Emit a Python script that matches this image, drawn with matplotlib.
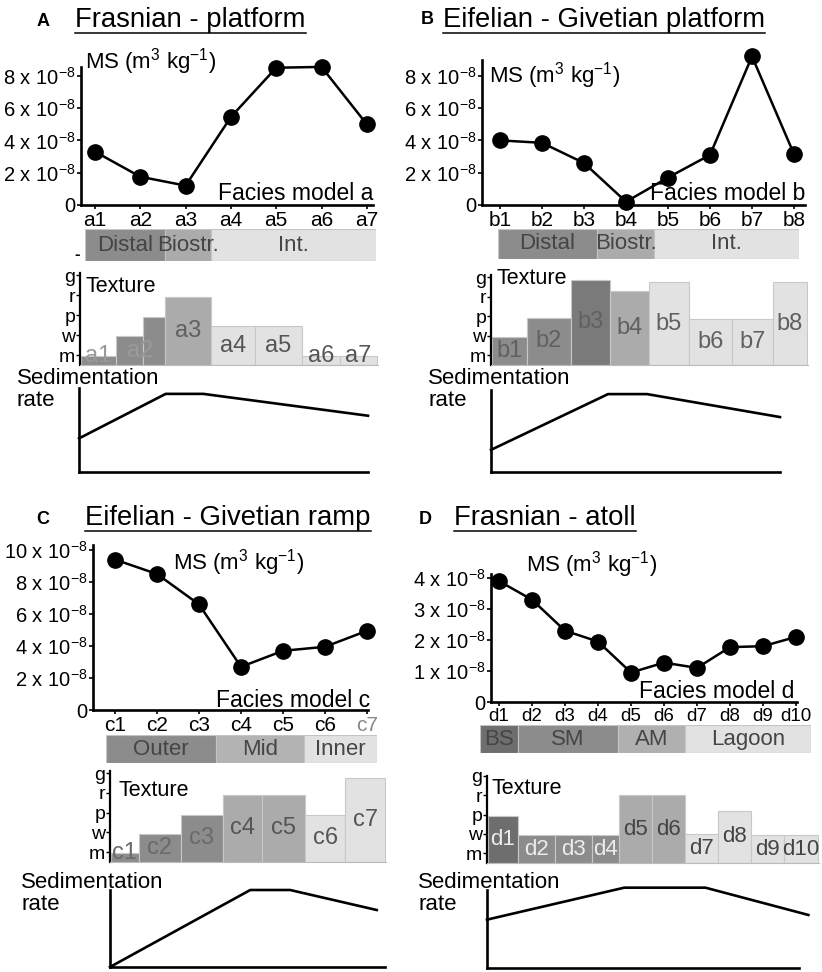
import matplotlib
matplotlib.use('Agg')
import matplotlib.pyplot as plt
from matplotlib.lines import Line2D
import numpy as np

plt.rcParams['font.family'] = ['Liberation Sans', 'DejaVu Sans']
plt.rcParams['mathtext.default'] = 'regular'

W, H = 822, 972

# ---------------- data ----------------
ms_a_labels = ['a1', 'a2', 'a3', 'a4', 'a5', 'a6', 'a7']
ms_a = [3.3, 1.75, 1.2, 5.45, 8.5, 8.55, 5.0]
ms_b_labels = ['b1', 'b2', 'b3', 'b4', 'b5', 'b6', 'b7', 'b8']
ms_b = [4.0, 3.85, 2.6, 0.2, 1.7, 3.1, 9.2, 3.15]
ms_c_labels = ['c1', 'c2', 'c3', 'c4', 'c5', 'c6', 'c7']
ms_c = [9.4, 8.5, 6.6, 2.7, 3.7, 3.95, 4.95]
ms_d_labels = ['d1', 'd2', 'd3', 'd4', 'd5', 'd6', 'd7', 'd8', 'd9', 'd10']
ms_d = [3.9, 3.3, 2.3, 1.95, 0.95, 1.27, 1.1, 1.77, 1.8, 2.1]

ms_ab_ticks = [0, 2, 4, 6, 8]
ms_c_ticks = [0, 2, 4, 6, 8, 10]
ms_d_ticks = [0, 1, 2, 3, 4]

facies_a = ['Distal', 'Biostr.', 'Int.']
facies_a_w = [80, 46, 165]
facies_b = ['Distal', 'Biostr.', 'Int.']
facies_b_w = [99, 57, 145]
facies_c = ['Outer', 'Mid', 'Inner']
facies_c_w = [110, 88, 73]
facies_d = ['BS', 'SM', 'AM', 'Lagoon']
facies_d_w = [38, 100, 67, 126]

texture_levels = ['m', 'w', 'p', 'r', 'g']

tex_a_w = [35, 27, 22, 46, 44, 47, 38, 37]
tex_a_h = [0.95, 1.95, 2.9, 3.9, 2.45, 2.45, 0.95, 0.95]
tex_a_lab = ['a1', 'a2', 'a3', 'a4', 'a5', 'a6', 'a7']
tex_a_span = [1, 2, 1, 1, 1, 1, 1]

tex_b_w = [35, 44, 39, 39, 41, 43, 41, 34]
tex_b_h = [1.9, 2.9, 4.85, 4.28, 4.74, 2.85, 2.85, 4.74]
tex_b_lab = ms_b_labels
tex_b_span = [1] * 8

tex_c_w = [28, 42, 42, 40, 43, 40, 40]
tex_c_h = [0.95, 1.9, 2.9, 3.9, 3.9, 2.9, 4.75]
tex_c_lab = ms_c_labels
tex_c_span = [1] * 7

tex_d_w = [30, 37, 37, 27, 33, 34, 33, 33, 33, 34]
tex_d_h = [2.9, 1.93, 1.93, 1.93, 4.0, 4.0, 1.98, 3.2, 1.93, 1.93]
tex_d_lab = ms_d_labels
tex_d_span = [1] * 10

sed_a_x = [0, 0.30, 0.43, 1.0]
sed_a_y = [0.40, 0.93, 0.93, 0.67]
sed_b_x = [0, 0.405, 0.54, 1.0]
sed_b_y = [0.27, 0.95, 0.95, 0.67]
sed_c_x = [0, 0.51, 0.655, 0.97]
sed_c_y = [0.0, 1.0, 1.0, 0.74]
sed_d_x = [0, 0.44, 0.70, 1.03]
sed_d_y = [0.62, 1.03, 1.03, 0.68]

# ---------------- styles ----------------
DARKEST = '#6e6e6e'
DARKER = '#7a7a7a'
DARK = '#8c8c8c'
MID = '#ababab'
LIGHT = '#e2e2e2'

band_a_col = [DARK, MID, LIGHT]
band_b_col = [DARK, MID, LIGHT]
band_c_col = [DARK, '#b3b3b3', LIGHT]
band_d_col = [DARKEST, DARK, '#b0b0b0', LIGHT]

tex_a_col = [DARK, DARK, DARK, MID, LIGHT, LIGHT, LIGHT, LIGHT]
tex_b_col = [DARK, DARK, DARKER, MID, LIGHT, LIGHT, LIGHT, LIGHT]
tex_c_col = [DARK, DARK, DARK, MID, MID, LIGHT, LIGHT]
tex_d_col = [DARKEST, DARK, DARK, DARK, MID, MID, LIGHT, LIGHT, LIGHT, LIGHT]

tex_a_tc = ['#9a9a9a', '#9a9a9a', '#606060', '#555555', '#555555', '#555555', '#555555']
tex_b_tc = ['#606060'] * 8
tex_c_tc = ['#6a6a6a'] * 3 + ['#555555'] * 4
tex_d_tc = ['#ececec'] * 4 + ['#444444'] * 6

fig = plt.figure(figsize=(W / 100, H / 100), dpi=100)


def px_axes(x0, y0, x1, y1):
    return fig.add_axes([x0 / W, 1 - y1 / H, (x1 - x0) / W, (y1 - y0) / H])


def ftext(x, y, s, **kw):
    return fig.text(x / W, 1 - y / H, s, **kw)


def ms_panel(box, x0px, step, scale, values, labels, ticks, ms_xy, fac_xy, fac_txt,
             xfs=15):
    ax = px_axes(*box)
    idx = np.arange(len(values))
    ax.plot(idx, values, color='black', lw=1.8, marker='o', ms=11,
            clip_on=False, zorder=3)
    ax.set_xlim((box[0] - x0px) / step, (box[2] - x0px) / step)
    ax.set_ylim(0, (box[3] - box[1]) / scale)
    for s in ['top', 'right']:
        ax.spines[s].set_visible(False)
    for s in ['left', 'bottom']:
        ax.spines[s].set_linewidth(1.9)
    ax.set_xticks(idx)
    ax.set_xticklabels(labels, fontsize=xfs)
    ax.set_yticks(ticks)
    ax.set_yticklabels(['0' if t == 0 else '%d x 10$^{-8}$' % t for t in ticks],
                       fontsize=14.5)
    ax.tick_params(axis='both', length=3, width=1.2, pad=1)
    ax.patch.set_alpha(0)
    ftext(ms_xy[0], ms_xy[1], 'MS (m$^3$ kg$^{-1}$)', fontsize=16,
          ha='left', va='center')
    ftext(fac_xy[0], fac_xy[1], fac_txt, fontsize=16.5, ha='right', va='center')
    return ax


def band(box, widths, names, colors):
    ax = px_axes(*box)
    lefts = np.concatenate([[0], np.cumsum(widths)[:-1]])
    ax.barh(0, widths, left=lefts, height=1, color=colors,
            edgecolor='#c4c4c4', lw=0.8)
    for l, w, n in zip(lefts, widths, names):
        ax.text(l + w / 2, 0, n, ha='center', va='center', fontsize=16,
                color='#454545')
    ax.set_xlim(0, sum(widths))
    ax.set_ylim(-0.5, 0.5)
    ax.axis('off')


def texture(box, widths, heights, colors, labels, spans, tcolors, m_px, step_px,
            tex_xy, lfs=17):
    ax = px_axes(*box)
    lefts = np.concatenate([[0], np.cumsum(widths)[:-1]])
    bottom = 1 - (box[3] - m_px) / step_px
    top = 1 + (m_px - box[1]) / step_px
    ax.bar(lefts, np.array(heights) - bottom, bottom=bottom, width=widths,
           align='edge', color=colors, edgecolor='#c8c8c8', lw=0.8)
    i = 0
    for lab, sp, tc in zip(labels, spans, tcolors):
        xc = lefts[i] + sum(widths[i:i + sp]) / 2
        hmin = min(heights[i:i + sp])
        yc = max((bottom + hmin) / 2, bottom + 0.45)
        ax.text(xc, yc, lab, ha='center', va='center', fontsize=lfs, color=tc)
        i += sp
    ax.set_xlim(-1, sum(widths) + 1)
    ax.set_ylim(bottom, top)
    ax.set_yticks(range(1, 6))
    ax.set_yticklabels(texture_levels, fontsize=14)
    ax.tick_params(axis='y', length=3, width=1.0, pad=0.5)
    ax.set_xticks([])
    for s in ['top', 'right']:
        ax.spines[s].set_visible(False)
    ax.spines['left'].set_linewidth(1.6)
    ax.spines['bottom'].set_color('#bbbbbb')
    ax.spines['bottom'].set_linewidth(0.8)
    ax.patch.set_alpha(0)
    ftext(tex_xy[0], tex_xy[1], 'Texture', fontsize=15.5, ha='left', va='center')


def sed(box, xs, ys, lab_xy):
    ax = px_axes(*box)
    ax.plot(xs, ys, color='black', lw=1.9, clip_on=False)
    ax.set_xlim(0, 1)
    ax.set_ylim(0, 1)
    ax.set_xticks([])
    ax.set_yticks([])
    for s in ['top', 'right']:
        ax.spines[s].set_visible(False)
    for s in ['left', 'bottom']:
        ax.spines[s].set_linewidth(1.9)
    ax.patch.set_alpha(0)
    ftext(lab_xy[0], lab_xy[1], 'Sedimentation', fontsize=16, ha='left', va='center')
    ftext(lab_xy[0], lab_xy[1] + 23, 'rate', fontsize=16, ha='left', va='center')


titles = []


def title(letter_xy, letter, xy, txt):
    ftext(letter_xy[0], letter_xy[1], letter, fontsize=13, fontweight='bold',
          ha='left', va='center')
    titles.append(ftext(xy[0], xy[1], txt, fontsize=19.8, ha='left', va='center'))


# ---------------- panel A ----------------
title((37, 21), 'A', (75, 20), 'Frasnian - platform')
ms_panel((81, 67, 373, 205), 95, 45.3, 16.15, ms_a, ms_a_labels, ms_ab_ticks,
         (85, 62), (373, 193), 'Facies model a')
band((85, 229, 376, 261), facies_a_w, facies_a, band_a_col)
ftext(77, 254, '-', fontsize=12, fontweight='bold', ha='center', va='center')
texture((80, 273, 378, 365), tex_a_w, tex_a_h, tex_a_col, tex_a_lab, tex_a_span,
        tex_a_tc, 355, 20, (85, 286))
sed((79, 388, 368, 472), sed_a_x, sed_a_y, (17, 378))

# ---------------- panel B ----------------
title((421, 20), 'B', (443, 20), 'Eifelian - Givetian platform')
ms_panel((482, 60, 805, 205), 500, 42.0, 16.15, ms_b, ms_b_labels, ms_ab_ticks,
         (489, 76), (805, 193), 'Facies model b')
band((498, 229, 799, 259), facies_b_w, facies_b, band_b_col)
texture((491, 275, 808, 365), tex_b_w, tex_b_h, tex_b_col, tex_b_lab, tex_b_span,
        tex_b_tc, 355, 19.5, (496, 279))
sed((491, 390, 780, 472), sed_b_x, sed_b_y, (428, 378))

# ---------------- panel C ----------------
title((36, 519), 'C', (85, 518), 'Eifelian - Givetian ramp')
axc = ms_panel((93, 545, 368, 710), 115, 42.0, 16.0, ms_c, ms_c_labels, ms_c_ticks,
               (173, 563), (370, 700), 'Facies model c')
axc.get_xticklabels()[-1].set_color('#888888')
band((106, 735, 377, 763), facies_c_w, facies_c, band_c_col)
texture((110, 771, 386, 862), tex_c_w, tex_c_h, tex_c_col, tex_c_lab, tex_c_span,
        tex_c_tc, 852, 19.7, (118, 790))
sed((110, 890, 385, 967), sed_c_x, sed_c_y, (21, 882))

# ---------------- panel D ----------------
title((419, 519), 'D', (454, 518), 'Frasnian - atoll')
ms_panel((491, 574, 797, 702), 499, 33.0, 31.0, ms_d, ms_d_labels, ms_d_ticks,
         (526, 565), (794, 692), 'Facies model d', xfs=13.5)
band((480, 725, 811, 753), facies_d_w, facies_d, band_d_col)
texture((487, 776, 819, 863), tex_d_w, tex_d_h, tex_d_col, tex_d_lab, tex_d_span,
        tex_d_tc, 853, 19.3, (491, 788), lfs=16)
sed((487, 890, 799, 968), sed_d_x, sed_d_y, (418, 882))

# underline titles
fig.canvas.draw()
r = fig.canvas.get_renderer()
for t in titles:
    bb = t.get_window_extent(r)
    y = (bb.y0 - 0.5) / H
    fig.add_artist(Line2D([bb.x0 / W, bb.x1 / W], [y, y], color='black', lw=1.1))

fig.savefig('out.png', dpi=100)
